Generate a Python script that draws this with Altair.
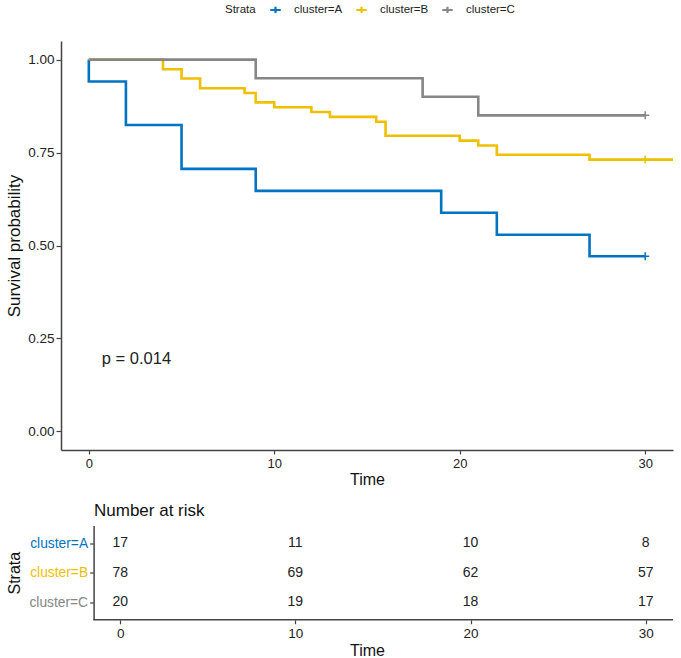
import altair as alt
import pandas as pd

FONT = "Liberation Sans"
strata = ["cluster=A", "cluster=B", "cluster=C"]
colors = ["#0073C2", "#EFC000", "#868686"]

# Kaplan-Meier step points (time, survival)
time_A = [0, 0, 2, 5, 9, 19, 22, 27, 30]
surv_A = [1.0, 0.941, 0.824, 0.706, 0.647, 0.588, 0.529, 0.471, 0.471]

time_B = [0, 4, 5, 6, 8.4, 9, 10, 12, 13, 15.5, 16, 20, 21, 22, 27, 31.5]
surv_B = [1.0, 0.974, 0.949, 0.923, 0.910, 0.885, 0.872, 0.859, 0.846, 0.833,
          0.795, 0.782, 0.769, 0.744, 0.731, 0.731]

time_C = [0, 9, 18, 21, 30]
surv_C = [1.0, 0.95, 0.90, 0.85, 0.85]

censor_time = [30, 30, 30]
censor_surv = [0.471, 0.731, 0.85]

pval_label = ["p = 0.014"]
pval_x = [0.7]
pval_y = [0.195]

risk_times = [0, 10, 20, 30]
risk_A = [17, 11, 10, 8]
risk_B = [78, 69, 62, 57]
risk_C = [20, 19, 18, 17]

time_ticks = [0, 10, 20, 30]
surv_ticks = [0, 0.25, 0.5, 0.75, 1.0]
top_x_domain = [-1.5, 31.5]
risk_x_domain = [-3.38, 31.56]
risk_axis_span = [-1.53, 31.56]

rows = []
for s, ts, vs in zip(strata, [time_A, time_B, time_C], [surv_A, surv_B, surv_C]):
    for i, (t, v) in enumerate(zip(ts, vs)):
        rows.append({"strata": s, "time": t, "surv": v, "order": i})
km = pd.DataFrame(rows)
censor = pd.DataFrame({"strata": strata, "time": censor_time, "surv": censor_surv})
pval = pd.DataFrame({"x": pval_x, "y": pval_y, "label": pval_label})

rrows = []
for s, ns in zip(strata, [risk_A, risk_B, risk_C]):
    for t, n in zip(risk_times, ns):
        rrows.append({"strata": s, "t": t, "n": n})
risk = pd.DataFrame(rrows)
span = pd.DataFrame({"a": [risk_axis_span[0]], "b": [risk_axis_span[1]]})

AXC = "#444444"
axis_common = dict(domainColor=AXC, domainWidth=1.5, tickColor=AXC,
                   tickWidth=1.2, grid=False, labelFont=FONT, titleFont=FONT,
                   titleColor="#111111", titleFontWeight="normal")

xscale = alt.Scale(domain=top_x_domain, nice=False, zero=False)
yscale = alt.Scale(domain=[-0.05, 1.05], nice=False, zero=False)

x_top = alt.X("time:Q", scale=xscale,
              axis=alt.Axis(values=time_ticks, title="Time", labelFontSize=13,
                            tickSize=4, labelPadding=3, titleFontSize=16,
                            titlePadding=1, labelAngle=0, labelColor="#222222",
                            **axis_common))
y_top = alt.Y("surv:Q", scale=yscale,
              axis=alt.Axis(values=surv_ticks, format=".2f", title="Survival probability",
                            labelFontSize=13.5, tickSize=5, labelPadding=2,
                            titleFontSize=17, titlePadding=4, labelColor="#222222",
                            **axis_common))

color = alt.Color("strata:N", scale=alt.Scale(domain=strata, range=colors),
                  legend=alt.Legend(orient="none", legendX=164, legendY=-38,
                                    direction="horizontal", title="Strata",
                                    titleOrient="left", titleFont=FONT,
                                    titleFontSize=11.5, titleFontWeight="normal",
                                    titleColor="#222222", labelFont=FONT,
                                    labelFontSize=11.5, labelColor="#222222",
                                    symbolType="M -1 0 L 1 0 M 0 -0.6 L 0 0.6",
                                    symbolSize=110, symbolStrokeWidth=2.2,
                                    labelOffset=12, columnPadding=8,
                                    titlePadding=13))

lines = alt.Chart(km).mark_line(interpolate="step-after", strokeWidth=2.6).encode(
    x=x_top, y=y_top, color=color, order="order:Q")

cens = alt.Chart(censor).mark_point(shape="M -1 0 L 1 0 M 0 -1 L 0 1", filled=False,
                                    size=64, strokeWidth=1.5, opacity=1).encode(
    x=alt.X("time:Q", scale=xscale), y=alt.Y("surv:Q", scale=yscale),
    color=alt.Color("strata:N", scale=alt.Scale(domain=strata, range=colors), legend=None))

ptext = alt.Chart(pval).mark_text(align="left", baseline="middle", fontSize=16.5,
                                  font=FONT, color="#222222").encode(
    x=alt.X("x:Q", scale=xscale), y=alt.Y("y:Q", scale=yscale), text="label:N")

top = alt.layer(lines, cens, ptext).properties(width=612, height=409)

label_color = {
    "condition": [
        {"test": "datum.value === 'cluster=A'", "value": colors[0]},
        {"test": "datum.value === 'cluster=B'", "value": colors[1]},
    ],
    "value": colors[2],
}

rscale = alt.Scale(domain=risk_x_domain, nice=False, zero=False)
rx = alt.X("t:Q", scale=rscale,
           axis=alt.Axis(values=time_ticks, title="Time", labelFontSize=13.5,
                         tickSize=4, labelPadding=3, titleFontSize=16,
                         titlePadding=2, labelAngle=0, labelColor="#222222",
                         domain=False, **axis_common))
ry = alt.Y("strata:N", scale=alt.Scale(domain=strata, type="point", padding=0.6),
           axis=alt.Axis(title="Strata", labelFontSize=13.8, tickSize=4,
                         labelPadding=2, titleFontSize=16, titlePadding=6,
                         offset=-32.6, labelColor=label_color, **axis_common))

risk_text = alt.Chart(risk).mark_text(fontSize=14, font=FONT, color="#222222").encode(
    x=rx, y=ry, text="n:Q")

risk_line = alt.Chart(span).mark_rule(color=AXC, strokeWidth=1.5).encode(
    x=alt.X("a:Q", scale=rscale), x2="b:Q", y=alt.value(94.3))

bottom = alt.layer(risk_text, risk_line).properties(
    width=612, height=94.3,
    title=alt.TitleParams("Number at risk", anchor="start", frame="group", dx=33,
                          fontSize=17, font=FONT, fontWeight="normal",
                          color="#111111", offset=6))

chart = alt.vconcat(top, bottom, spacing=14.5).resolve_scale(
    x="independent", y="independent").properties(
    padding={"left": 5, "top": 3, "right": 0, "bottom": 0}
).configure_view(stroke=None)

chart.save("out.html", embed_options={"renderer": "svg", "actions": False})
